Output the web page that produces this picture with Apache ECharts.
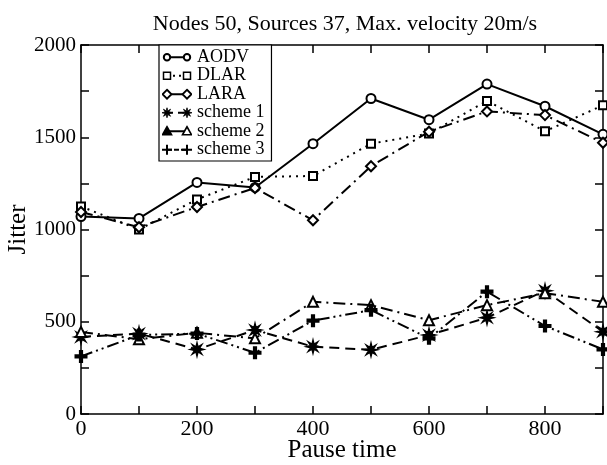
<!DOCTYPE html>
<html>
<head>
<meta charset="utf-8">
<script src="https://cdn.jsdelivr.net/npm/echarts@6/dist/echarts.min.js"></script>
<style>html,body{margin:0;padding:0;background:#fff}#c{width:607px;height:465px}</style>
</head>
<body>
<div id="c"></div>
<script>
const titleText = 'Nodes 50, Sources 37, Max. velocity 20m/s';
const xValues = [0, 100, 200, 300, 400, 500, 600, 700, 800, 900];
const aodv    = [1070, 1060, 1255, 1228, 1465, 1710, 1595, 1788, 1668, 1516];
const dlar    = [1125, 1000, 1163, 1285, 1290, 1465, 1520, 1697, 1532, 1673];
const lara    = [1095, 1012, 1122, 1225, 1050, 1343, 1530, 1640, 1620, 1470];
const scheme1 = [418, 436, 350, 455, 365, 348, 428, 522, 668, 446];
const scheme2 = [445, 405, 440, 410, 608, 590, 508, 590, 655, 608];
const scheme3 = [312, 428, 436, 332, 506, 563, 410, 663, 477, 350];
const seriesNames = ['AODV', 'DLAR', 'LARA', 'scheme 1', 'scheme 2', 'scheme 3'];
const xLabels = [0, 200, 400, 600, 800];
const yLabels = [0, 500, 1000, 1500, 2000];

const FONT = "'Liberation Serif', 'DejaVu Serif', serif";
const starD = 'M0,-5 L0.77,-1.85 L3.54,-3.54 L1.85,-0.77 L5,0 L1.85,0.77 L3.54,3.54 L0.77,1.85 L0,5 L-0.77,1.85 L-3.54,3.54 L-1.85,0.77 L-5,0 L-1.85,-0.77 L-3.54,-3.54 L-0.77,-1.85 Z';
const plusD = 'M-1,-5 L1,-5 L1,-1 L5,-1 L5,1 L1,1 L1,5 L-1,5 L-1,1 L-5,1 L-5,-1 L-1,-1 Z';
const starPath = 'path://' + starD;
const plusPath = 'path://' + plusD;

const pair = arr => xValues.map((x, i) => [x, arr[i]]);

const styles = [
  {data: aodv, symbol: 'circle', size: 9, fill: '#fff', dash: 'solid', svgDash: ''},
  {data: dlar, symbol: 'rect', size: 8, fill: '#fff', dash: [2, 5], svgDash: '2,4'},
  {data: lara, symbol: 'diamond', size: 10, fill: '#fff', dash: [12, 5, 2, 5], svgDash: ''},
  {data: scheme1, symbol: starPath, size: 11, fill: '#000', dash: [10, 6], svgDash: '6,5'},
  {data: scheme2, symbol: 'triangle', size: 10, fill: '#fff', dash: [12, 5, 2, 5], svgDash: ''},
  {data: scheme3, symbol: plusPath, size: 11, fill: '#000', dash: [12, 4, 2, 4, 2, 4], svgDash: '5,2'}
];

// legend icons: line with a marker at each end
function marker(kind, cx, filled) {
  const f = filled ? '#000' : '#fff';
  const t = 'transform="translate(' + cx + ',6)"';
  if (kind === 0) return '<circle cx="' + cx + '" cy="6" r="3.2" fill="' + f + '" stroke="#000" stroke-width="2"/>';
  if (kind === 1) return '<rect x="' + (cx - 3.5) + '" y="2.5" width="7" height="7" fill="' + f + '" stroke="#000" stroke-width="1.5"/>';
  if (kind === 2) return '<path ' + t + ' d="M0,-4.5 L4.5,0 L0,4.5 L-4.5,0 Z" fill="' + f + '" stroke="#000" stroke-width="1.8"/>';
  if (kind === 3) return '<path ' + t + ' d="' + starD + '" fill="#000" stroke="#000" stroke-width="0.8"/>';
  if (kind === 4) return '<path ' + t + ' d="M0,-4.5 L4.5,3.5 L-4.5,3.5 Z" fill="' + f + '" stroke="#000" stroke-width="1.6"/>';
  return '<path ' + t + ' d="' + plusD + '" fill="#000"/>';
}
function legendIcon(i) {
  const s = styles[i];
  const dash = s.svgDash ? ' stroke-dasharray="' + s.svgDash + '"' : '';
  const svg = '<svg xmlns="http://www.w3.org/2000/svg" width="30" height="12" viewBox="0 0 30 12">' +
    '<line x1="5" y1="6" x2="25" y2="6" stroke="#000" stroke-width="2"' + dash + '/>' +
    marker(i, 5, i === 4 || i === 3 || i === 5) + marker(i, 25, false) + '</svg>';
  return 'image://data:image/svg+xml;charset=utf-8,' + encodeURIComponent(svg);
}

const series = styles.map((s, i) => ({
  name: seriesNames[i],
  type: 'line',
  data: pair(s.data),
  symbol: s.symbol,
  symbolSize: s.size,
  showAllSymbol: true,
  lineStyle: {color: '#000', width: 2, type: s.dash},
  itemStyle: {color: s.fill, borderColor: '#000', borderWidth: 2},
  emphasis: {disabled: true},
  animation: false
}));

const tickCommon = {show: true, inside: true, length: 8, lineStyle: {color: '#000', width: 1.5}};
const lineCommon = {show: true, onZero: false, lineStyle: {color: '#000', width: 1.5}};

const chart = echarts.init(document.getElementById('c'));
chart.setOption({
  backgroundColor: '#fff',
  animation: false,
  title: {
    text: titleText,
    left: 340, top: 8, textAlign: 'center',
    textStyle: {fontFamily: FONT, fontSize: 22, fontWeight: 'normal', color: '#000'}
  },
  legend: {
    data: seriesNames.map((n, i) => ({name: n, icon: legendIcon(i)})),
    orient: 'vertical',
    left: 159, top: 45,
    itemWidth: 30, itemHeight: 12, itemGap: 0,
    padding: [3, 7, 2, 3],
    borderColor: '#000', borderWidth: 1.2,
    backgroundColor: '#fff',
    textStyle: {fontFamily: FONT, fontSize: 18, color: '#000', lineHeight: 18.5},
    selectedMode: false
  },
  grid: {left: 81, right: 4, top: 45, bottom: 51, outerBoundsMode: 'none', containLabel: false},
  xAxis: [
    {
      type: 'value', min: 0, max: 900, interval: 100, position: 'bottom',
      name: 'Pause time', nameLocation: 'middle', nameGap: 24, nameMoveOverlap: false,
      nameTextStyle: {fontFamily: FONT, fontSize: 25, color: '#000'},
      axisLine: lineCommon, axisTick: tickCommon, splitLine: {show: false},
      axisLabel: {fontFamily: FONT, fontSize: 22, color: '#000', margin: 4,
        formatter: v => xLabels.indexOf(v) >= 0 ? String(v) : ''}
    },
    {
      type: 'value', min: 0, max: 900, interval: 100, position: 'top',
      axisLine: lineCommon, axisTick: tickCommon, splitLine: {show: false},
      axisLabel: {show: false}
    }
  ],
  yAxis: [
    {
      type: 'value', min: 0, max: 2000, interval: 250, position: 'left',
      name: 'Jitter', nameLocation: 'middle', nameGap: 50, nameRotate: 90, nameMoveOverlap: false,
      nameTextStyle: {fontFamily: FONT, fontSize: 25, color: '#000'},
      axisLine: lineCommon, axisTick: tickCommon, splitLine: {show: false},
      axisLabel: {fontFamily: FONT, fontSize: 21, color: '#000', margin: 5,
        formatter: v => yLabels.indexOf(v) >= 0 ? String(v) : ''}
    },
    {
      type: 'value', min: 0, max: 2000, interval: 250, position: 'right',
      axisLine: lineCommon, axisTick: tickCommon, splitLine: {show: false},
      axisLabel: {show: false}
    }
  ],
  series: series
});
</script>
</body>
</html>
